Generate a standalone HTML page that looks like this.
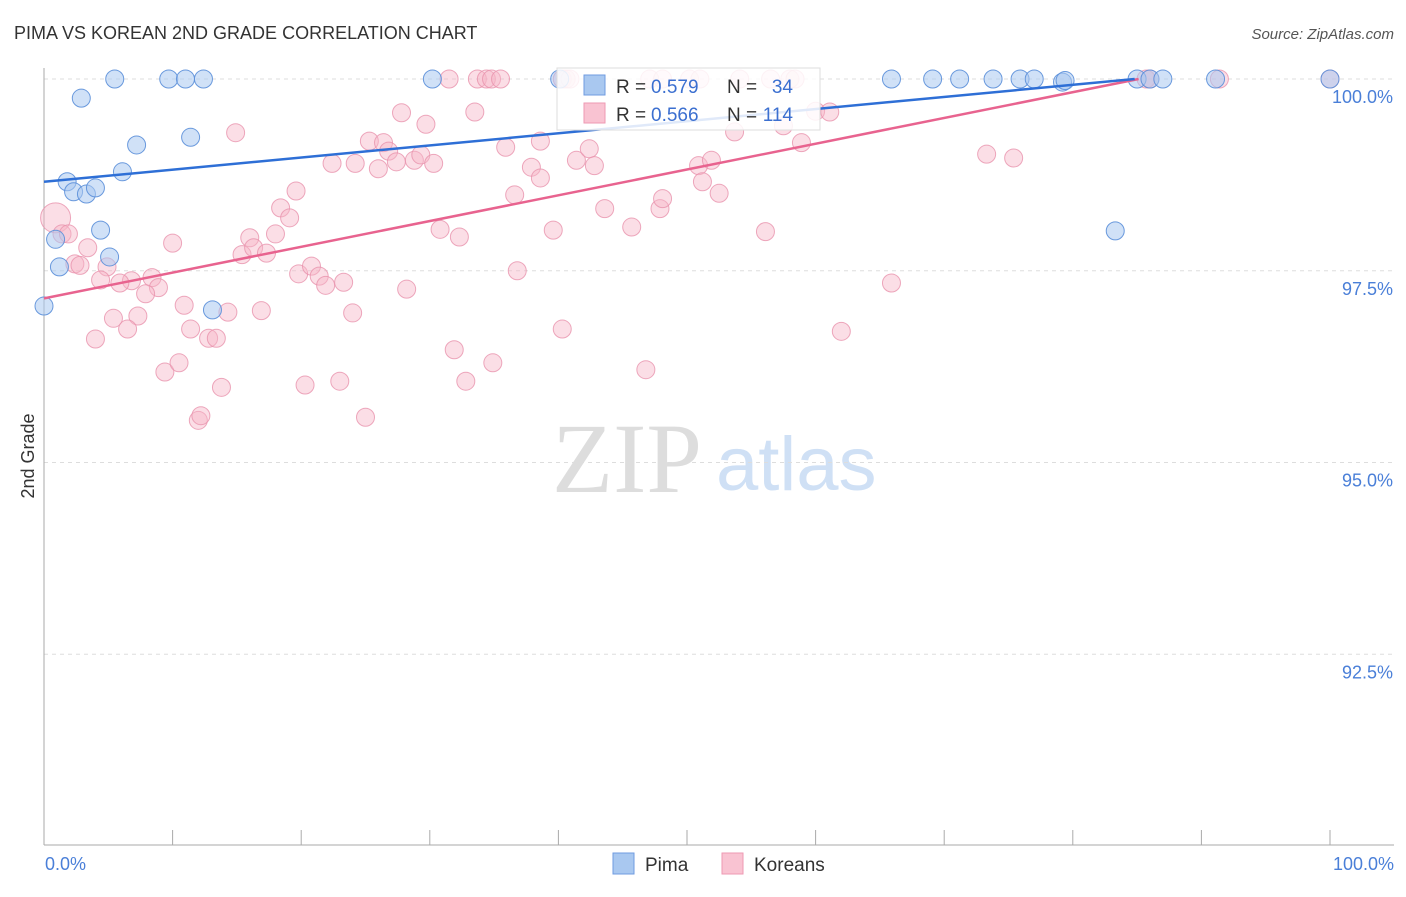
<!DOCTYPE html>
<html><head><meta charset="utf-8"><style>
body{margin:0;background:#fff;font-family:"Liberation Sans",sans-serif;}
</style></head><body>
<svg id="chart" width="1406" height="892" font-family="Liberation Sans, sans-serif">
<text x="14" y="39" font-size="18" fill="#333">PIMA VS KOREAN 2ND GRADE CORRELATION CHART</text>
<text x="1394" y="39" font-size="15" fill="#555" font-style="italic" text-anchor="end">Source: ZipAtlas.com</text>
<g>
<text x="552" y="492" font-size="100" fill="#ddd" style="font-family:'Liberation Serif',serif">ZIP</text>
<text x="716" y="490" font-size="76" fill="#cfe0f5">atlas</text>
</g>
<g id="grid"></g>
<g id="axes"></g>
<g id="marks"></g>
<text transform="translate(34,456) rotate(-90)" font-size="18" fill="#333" text-anchor="middle">2nd Grade</text>
<g>
<rect x="557" y="68" width="263" height="62" fill="#fff" fill-opacity="0.85" stroke="#ddd"/>
<rect x="584" y="75" width="21" height="20" fill="#a9c8f0" stroke="#6f9be0"/>
<rect x="584" y="103" width="21" height="20" fill="#f9c3d2" stroke="#ee9ab3"/>
<g font-size="19">
<text x="616" y="93" fill="#333">R =</text><text x="651" y="93" fill="#3b6fd0">0.579</text>
<text x="727" y="93" fill="#333">N =</text><text x="793" y="93" fill="#3b6fd0" text-anchor="end">34</text>
</g>
<g font-size="19">
<text x="616" y="121" fill="#333">R =</text><text x="651" y="121" fill="#3b6fd0">0.566</text>
<text x="727" y="121" fill="#333">N =</text><text x="793" y="121" fill="#3b6fd0" text-anchor="end">114</text>
</g>
</g>
<g>
<rect x="613" y="853" width="21" height="21" fill="#a9c8f0" stroke="#6f9be0"/>
<text x="645" y="871" font-size="19" fill="#333">Pima</text>
<rect x="722" y="853" width="21" height="21" fill="#f9c3d2" stroke="#ee9ab3"/>
<text x="754" y="871" font-size="19" fill="#333">Koreans</text>
</g>
</svg>
<script>
const pimaX=[5.5,9.7,11.0,12.4,30.2,65.9,69.1,71.2,73.8,75.9,77.0,79.2,79.4,85.0,86.0,87.0,91.1,100,2.9,7.2,11.4,6.1,1.8,2.3,3.3,4.0,4.4,0.9,5.1,1.2,0,13.1,83.3,40.1];
const pimaY=[100,100,100,100,100,100,100,100,100,100,100,99.96,99.98,100,100,100,100,100,99.75,99.14,99.24,98.79,98.66,98.53,98.5,98.58,98.03,97.91,97.68,97.55,97.04,96.99,98.02,100];
const korX=[31.5,33.7,34.4,34.8,35.5,40.3,40.6,40.9,47.1,48.1,50.2,51.0,54.1,56.5,58.0,58.4,85.7,86.0,91.4,100,
0.9,1.4,1.9,3.4,2.4,2.8,4.9,4.4,6.8,5.9,8.4,8.9,7.9,5.4,7.3,6.5,4.0,10.9,11.4,10.0,9.4,10.5,12.8,13.4,14.3,13.8,12.0,12.2,14.9,16.9,16.0,15.4,16.3,17.3,18.0,18.4,19.1,19.6,19.8,20.8,21.4,21.9,23.3,24.0,20.3,23.0,25.0,22.4,24.2,25.3,26.0,26.4,26.8,27.4,27.8,28.2,28.8,29.3,29.7,30.3,30.8,31.9,32.3,32.8,33.5,34.9,35.9,36.6,36.8,37.9,38.6,38.6,39.6,40.3,41.4,42.4,42.8,43.6,45.7,46.8,47.9,48.1,50.9,51.2,51.9,52.5,53.7,56.1,57.5,58.9,60.0,61.1,62.0,65.9,73.3,75.4];
const korY=[100,100,100,100,100,100,100,100,100,100,100,100,100,100,100,100,100,100,100,100,
98.19,97.98,97.98,97.80,97.59,97.57,97.55,97.38,97.37,97.34,97.41,97.28,97.20,96.88,96.91,96.74,96.61,97.05,96.74,97.86,96.18,96.30,96.62,96.62,96.96,95.98,95.55,95.61,99.30,96.98,97.93,97.71,97.80,97.73,97.98,98.32,98.19,98.54,97.46,97.56,97.43,97.31,97.35,96.95,96.01,96.06,95.59,98.90,98.90,99.19,98.83,99.17,99.06,98.92,99.56,97.26,98.94,99.01,99.41,98.90,98.04,96.47,97.94,96.06,99.57,96.30,99.11,98.49,97.50,98.85,98.71,99.19,98.03,96.74,98.94,99.09,98.87,98.31,98.07,96.21,98.31,98.44,98.87,98.66,98.94,98.51,99.31,98.01,99.39,99.17,99.58,99.57,96.71,97.34,99.02,98.97];
const korSize=[];korX.forEach((v,i)=>korSize.push(i===20?15:9));
const yTicks=[100,97.5,95,92.5];
const yTickLabels=["100.0%","97.5%","95.0%","92.5%"];
const xTickLabels=["0.0%","100.0%"];
const pimaTrend=[98.66,100.24];
const korTrend=[97.14,100.5];

const X0=44,X1=1330,Y100=79,PX=76.7;
const sx=v=>X0+(X1-X0)*v/100;
const sy=v=>Y100+(100-v)*PX;
const NS="http://www.w3.org/2000/svg";
function mk(tag,attrs,parent){const e=document.createElementNS(NS,tag);for(const k in attrs)e.setAttribute(k,attrs[k]);parent.appendChild(e);return e;}
const grid=document.getElementById('grid'),axes=document.getElementById('axes'),marks=document.getElementById('marks');
yTicks.forEach((t,i)=>{
 const l=mk('line',{x1:44,x2:1394,y1:sy(t),y2:sy(t),stroke:'#ddd','stroke-dasharray':'4,4'},grid);
 
 
 const tx=mk('text',{x:1393,y:sy(t)+24,'font-size':18,fill:'#4a7fd8','text-anchor':'end'},axes);
 tx.textContent=yTickLabels[i];
 
 
});
const la=mk('line',{x1:44,x2:44,y1:68,y2:845,stroke:'#aaa'},axes);


const lb=mk('line',{x1:44,x2:1394,y1:845,y2:845,stroke:'#aaa'},axes);


for(let i=0;i<=10;i++){
 const t=mk('line',{x1:sx(i*10),x2:sx(i*10),y1:830,y2:845,stroke:'#aaa'},axes);
 
 
}
[[0,'start',45],[100,'end',1394]].forEach((d,i)=>{
 const t=mk('text',{x:d[2],y:870,'font-size':18,fill:'#4a7fd8','text-anchor':d[1]},axes);
 t.textContent=xTickLabels[i];
 
 
});
korX.forEach((x,i)=>{
 const c=mk('circle',{cx:sx(x),cy:sy(korY[i]),r:korSize[i],fill:'#f7b6c8','fill-opacity':0.45,stroke:'#e992ad','stroke-opacity':0.8},marks);
 
 
});
pimaX.forEach((x,i)=>{
 const c=mk('circle',{cx:sx(x),cy:sy(pimaY[i]),r:9,fill:'#a9c8f0','fill-opacity':0.55,stroke:'#5b8fd9','stroke-opacity':0.9},marks);
 
 
});
function trend(a,color,name){
 const slope=(a[1]-a[0])/100;
 let xe=100; if(a[1]>100) xe=(100-a[0])/slope;
 const l=mk('line',{x1:sx(0),y1:sy(a[0]),x2:sx(xe),y2:sy(a[0]+slope*xe),stroke:color,'stroke-width':2.5},marks);
 
 
}
trend(korTrend,'#e8638f','koreans-trend-line');
trend(pimaTrend,'#2e6fd6','pima-trend-line');
</script>
</body></html>
